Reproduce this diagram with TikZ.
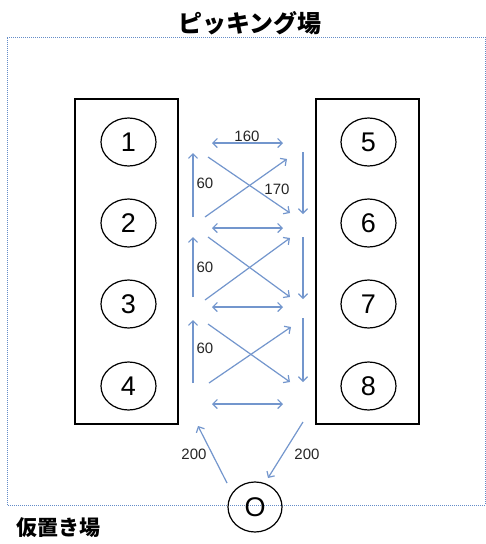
\documentclass[tikz,border=0pt]{standalone}
\usepackage{fontspec}
\setmainfont{Liberation Sans}
\newfontfamily\jp{Noto Sans CJK JP}
\usetikzlibrary{arrows.meta,shapes.geometric}
\definecolor{arrc}{RGB}{115,150,205}
\definecolor{dotc}{RGB}{100,140,200}
\begin{document}
\begin{tikzpicture}[x=1pt,y=-1pt,
  box/.style={draw,line width=1.6pt,minimum width=103pt,minimum height=325pt,inner sep=0pt},
  spot/.style={draw,ellipse,line width=1.2pt,minimum width=55pt,minimum height=48pt,inner sep=0pt,font=\fontsize{27}{27}\selectfont},
  arr/.style={draw=arrc,line width=1.2pt,-{Straight Barb[length=4.5pt,width=9pt]}},
  dbl/.style={draw=arrc,line width=1.2pt,{Straight Barb[length=4.5pt,width=9pt]}-{Straight Barb[length=4.5pt,width=9pt]}},
  lbl/.style={font=\fontsize{15}{15}\selectfont,text=black!85,inner sep=0pt},
  border/.style={draw=dotc,line width=1pt,dash pattern=on 1pt off 1pt}]
\useasboundingbox (0,0) rectangle (486,544);
\fill[white] (0,0) rectangle (486,544);
% dotted area border
\coordinate (b1) at (7,37);
\coordinate (b2) at (485,37);
\coordinate (b3) at (485,505);
\coordinate (b4) at (7,505);
\draw[border] (b4) -- (b1) -- (b2) -- (b3) -- cycle;
% titles
\node[font=\jp\bfseries\fontsize{24}{24}\selectfont] (title) at (250,23) {ピッキング場};
\node[font=\jp\bfseries\fontsize{21}{21}\selectfont,anchor=west] (temp) at (13,528) {仮置き場};
% racks
\node[box] (L) at (126.5,261.5) {};
\node[box] (R) at (367.5,261.5) {};
% spots
\node[spot] (s1) at (128.5,142) {1};
\node[spot] (s2) at (128.5,223) {2};
\node[spot] (s3) at (128.5,304) {3};
\node[spot] (s4) at (128.5,386) {4};
\node[spot] (s5) at (368.5,142) {5};
\node[spot] (s6) at (368.5,223) {6};
\node[spot] (s7) at (368.5,304) {7};
\node[spot] (s8) at (368.5,386) {8};
\node[spot,minimum width=54pt,minimum height=50pt] (s0) at (255,507) {O};
% arrow end points
\coordinate (u1a) at (193,217); \coordinate (u1b) at (193,153);
\coordinate (d1a) at (303,152); \coordinate (d1b) at (303,214);
\coordinate (x1a) at (208,157); \coordinate (x1b) at (290,213);
\coordinate (y1a) at (205,217); \coordinate (y1b) at (287,159);
\coordinate (h1a) at (212,143); \coordinate (h1b) at (283,143);
\coordinate (u2a) at (193,297); \coordinate (u2b) at (193,237);
\coordinate (d2a) at (303,237); \coordinate (d2b) at (303,299);
\coordinate (x2a) at (208,237); \coordinate (x2b) at (290,297);
\coordinate (y2a) at (205,300); \coordinate (y2b) at (290,238);
\coordinate (h2a) at (212,228); \coordinate (h2b) at (283,228);
\coordinate (u3a) at (193,383); \coordinate (u3b) at (193,320);
\coordinate (d3a) at (303,318); \coordinate (d3b) at (303,382);
\coordinate (x3a) at (208,324); \coordinate (x3b) at (290,382);
\coordinate (y3a) at (209,383); \coordinate (y3b) at (291,327);
\coordinate (h3a) at (212,307); \coordinate (h3b) at (283,307);
\coordinate (h4a) at (212,404); \coordinate (h4b) at (283,404);
\coordinate (oa) at (227,483); \coordinate (ob) at (198,426);
\coordinate (pa) at (303,422); \coordinate (pb) at (268,478);
% arrows
\foreach \g in {1,2,3}{
  \draw[arr] (u\g a) -- (u\g b);
  \draw[arr] (d\g a) -- (d\g b);
  \draw[arr] (x\g a) -- (x\g b);
  \draw[arr] (y\g a) -- (y\g b);
  \draw[dbl] (h\g a) -- (h\g b);
}
\draw[dbl] (h4a) -- (h4b);
\draw[arr] (oa) -- (ob);
\draw[arr] (pa) -- (pb);
% labels
\node[lbl] (t160) at (247,136) {160};
\node[lbl] (t60a) at (205,183) {60};
\node[lbl] (t170) at (277,189) {170};
\node[lbl] (t60b) at (205,267) {60};
\node[lbl] (t60c) at (205,348) {60};
\node[lbl] (t200a) at (194,454) {200};
\node[lbl] (t200b) at (307,454) {200};
\end{tikzpicture}
\end{document}
